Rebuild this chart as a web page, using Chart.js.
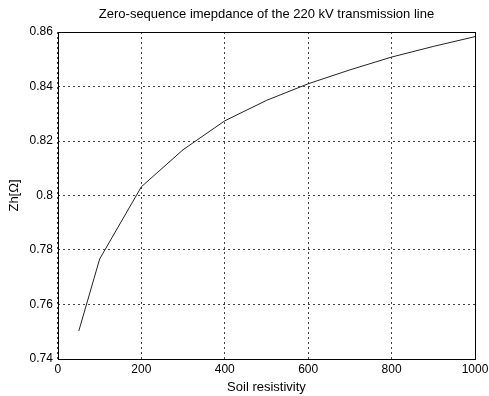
<!DOCTYPE html>
<html>
<head>
<meta charset="utf-8">
<script src="https://cdn.jsdelivr.net/npm/chart.js@4/dist/chart.umd.min.js"></script>
<style>
html,body{margin:0;padding:0;background:#fff;}
#wrap{width:489px;height:396px;position:relative;}
</style>
</head>
<body>
<div id="wrap"><canvas id="zhChart"></canvas></div>
<script>
const resistivity = [50, 100, 200, 300, 400, 500, 600, 700, 800, 900, 1000];
const zh = [0.7503, 0.7767, 0.8032, 0.8168, 0.8274, 0.8349, 0.8410, 0.8461, 0.8508, 0.8547, 0.8583];

const xTicks = [0, 200, 400, 600, 800, 1000];
const yTicks = [0.74, 0.76, 0.78, 0.8, 0.82, 0.84, 0.86];
const chartTitle = "Zero-sequence imepdance of the 220 kV transmission line";

// box round the plot area + title centred over it, like a matlab axes
const boxPlugin = {
id:"box",
afterDraw(c){
const a = c.chartArea;
const g = c.ctx;
g.save();
g.strokeStyle = "#000";
g.lineWidth = 1;
g.strokeRect(Math.round(a.left)+0.5, Math.round(a.top)+0.5,
Math.round(a.right-a.left), Math.round(a.bottom-a.top));
g.fillStyle = "#000";
g.font = "13px 'Liberation Sans', Arial, sans-serif";
g.textAlign = "center";
g.textBaseline = "middle";
g.fillText(chartTitle, (a.left+a.right)/2, 14);
g.restore();
}
};

Chart.defaults.font.family = "'Liberation Sans', Arial, sans-serif";
Chart.defaults.color = "#000";

new Chart(document.getElementById("zhChart"),{
type:"line",
data:{
datasets:[{
data: resistivity.map((x,i)=>({x:x, y:zh[i]})),
borderColor:"#222",
borderWidth:1,
pointRadius:0,
tension:0,
fill:false
}]
},
options:{
responsive:true,
maintainAspectRatio:false,
animation:false,
layout:{padding:{left:7, right:0, top:32, bottom:0}},
plugins:{
legend:{display:false},
tooltip:{enabled:false}
},
scales:{
x:{
type:"linear",
min:0,
max:1000,
afterBuildTicks(ax){ ax.ticks = xTicks.map(v=>({value:v})); },
afterFit(ax){ ax.paddingRight = 14; },
grid:{color:"#444", drawTicks:false},
border:{display:false, dash:[2,3]},
ticks:{font:{size:12}, padding:3, callback:v=>String(v)},
title:{display:true, text:"Soil resistivity", font:{size:13}, padding:{top:0, bottom:1}}
},
y:{
min:0.74,
max:0.86,
afterBuildTicks(ax){ ax.ticks = yTicks.map(v=>({value:v})); },
grid:{color:"#444", drawTicks:false},
border:{display:false, dash:[2,3]},
ticks:{font:{size:12}, padding:5, callback:v=>String(+v.toFixed(2))},
title:{display:true, text:"Zh[Ω]", font:{size:13}, padding:{top:0, bottom:2}}
}
}
},
plugins:[boxPlugin]
});
</script>
</body>
</html>
